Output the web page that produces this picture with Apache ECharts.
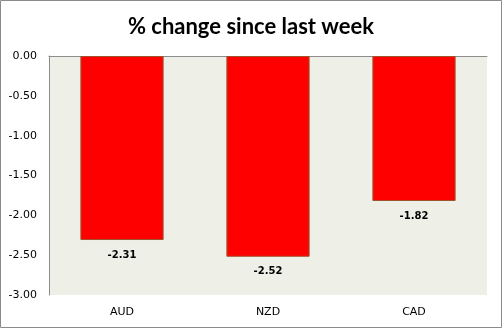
<!DOCTYPE html>
<html>
<head>
<meta charset="utf-8">
<script src="https://cdn.jsdelivr.net/npm/echarts@6/dist/echarts.min.js"></script>
<style>
  html, body { margin: 0; padding: 0; background: #fff; }
  #chart { width: 502px; height: 328px; }
</style>
</head>
<body>
<div id="chart"></div>
<script>
// Weekly currency moves (percent)
const categories = ['AUD', 'NZD', 'CAD'];
const changeValues = [-2.31, -2.52, -1.82];
const yTickLabels = ['0.00', '-0.50', '-1.00', '-1.50', '-2.00', '-2.50', '-3.00'];
const titleText = '% change since last week';

const chart = echarts.init(document.getElementById('chart'), null, { renderer: 'canvas' });

chart.setOption({
  animation: false,
  backgroundColor: '#ffffff',
  title: {
    text: titleText,
    left: 'center',
    top: 11,
    textStyle: {
      fontFamily: 'Lato',
      fontWeight: 'bold',
      fontSize: 22,
      color: '#000000'
    }
  },
  graphic: [{
    type: 'rect',
    shape: { x: 0.5, y: 0.5, width: 501, height: 327 },
    style: { fill: 'none', stroke: '#8a8a8a', lineWidth: 1 },
    z: 100
  }],
  grid: {
    left: 49,
    right: 15,
    top: 56,
    bottom: 33,
    show: true,
    backgroundColor: '#eef0e7',
    borderWidth: 0
  },
  xAxis: [{
    type: 'category',
    data: categories,
    position: 'bottom',
    axisLine: { show: false, onZero: false },
    axisTick: { show: false },
    axisLabel: {
      margin: 12,
      fontFamily: 'DejaVu Sans',
      fontSize: 11,
      color: '#000000'
    }
  }, {
    type: 'category',
    data: categories,
    position: 'top',
    axisLine: { show: true, onZero: false, lineStyle: { color: '#8c8c8c', width: 1 } },
    axisTick: { show: false },
    axisLabel: { show: false }
  }],
  yAxis: {
    type: 'value',
    min: -3,
    max: 0,
    interval: 0.5,
    axisLine: { show: true, lineStyle: { color: '#8c8c8c', width: 1 } },
    axisTick: { show: false },
    splitLine: { show: false },
    axisLabel: {
      margin: 12,
      fontFamily: 'DejaVu Sans',
      fontSize: 11,
      color: '#000000',
      formatter: function (v) {
        const idx = Math.round(-v / 0.5);
        return yTickLabels[idx];
      }
    }
  },
  series: [{
    type: 'bar',
    data: changeValues,
    xAxisIndex: 0,
    barCategoryGap: '43%',
    itemStyle: {
      color: '#ff0000',
      borderColor: '#a0522d',
      borderWidth: 1
    },
    label: {
      show: true,
      position: 'bottom',
      distance: 10,
      fontFamily: 'DejaVu Sans',
      fontWeight: 'bold',
      fontSize: 10,
      color: '#000000',
      formatter: function (p) { return p.value.toFixed(2); }
    }
  }]
});
</script>
</body>
</html>
